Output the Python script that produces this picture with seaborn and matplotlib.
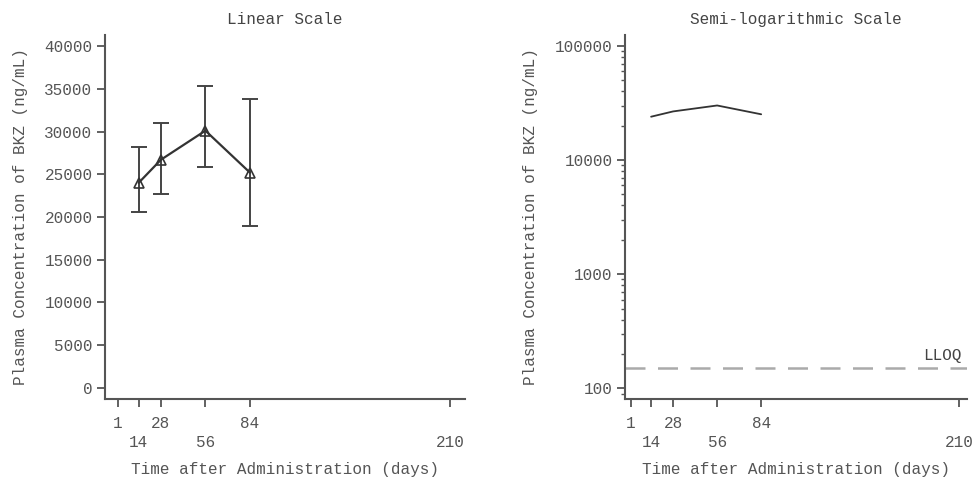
import matplotlib
matplotlib.use("Agg")
import matplotlib.pyplot as plt
import matplotlib.ticker as mticker
import seaborn as sns
import pandas as pd

# ---- data ----
days = [14, 28, 56, 84]
mean_conc = [24000, 26700, 30100, 25200]
upper_err = [28200, 31050, 35350, 33800]
lower_err = [20550, 22650, 25800, 18900]
lloq = 150
xtick_vals = [1, 14, 28, 56, 84, 210]
xtick_labels = ["1", "\n14", "28", "\n56", "84", "\n210"]
lin_yticks = [0, 5000, 10000, 15000, 20000, 25000, 30000, 35000, 40000]
log_yticks = [100, 1000, 10000, 100000]

df = pd.DataFrame({"day": days, "conc": mean_conc})

sns.set_style("ticks")
plt.rcParams["font.family"] = ["Liberation Mono", "DejaVu Sans Mono"]
plt.rcParams["font.size"] = 11.5

TXT = "#555555"
LINE = "#333333"

fig = plt.figure(figsize=(9.75, 4.79), dpi=100)
ax1 = fig.add_axes([105 / 975, 80 / 479, 360 / 975, 364 / 479])
ax2 = fig.add_axes([625 / 975, 80 / 479, 342 / 975, 364 / 479])

ylabel = "Plasma Concentration of BKZ (ng/mL)"
xlabel = "Time after Administration (days)"

# ---- linear panel ----
yerr = [[m - lo for m, lo in zip(mean_conc, lower_err)],
        [hi - m for m, hi in zip(mean_conc, upper_err)]]
ax1.errorbar(days, mean_conc, yerr=yerr, fmt="none", ecolor="#444444",
             elinewidth=1.4, capsize=5.5, capthick=1.4, zorder=2)
sns.lineplot(data=df, x="day", y="conc", ax=ax1, color=LINE, lw=1.6,
             marker="^", markersize=7.5, markerfacecolor="none",
             markeredgecolor=LINE, markeredgewidth=1.2, zorder=3)
ax1.set_xlim(-7.2, 219.4)
ax1.set_ylim(-1290, 41290)
ax1.set_yticks(lin_yticks)
ax1.set_yticklabels([str(v) for v in lin_yticks])
ax1.set_title("Linear Scale", color="#444444", pad=8, fontsize=11.5)

# ---- semi-log panel ----
sns.lineplot(data=df, x="day", y="conc", ax=ax2, color=LINE, lw=1.3)
ax2.set_yscale("log")
ax2.set_xlim(-2.6, 214.9)
ax2.set_ylim(80.6, 124800)
ax2.yaxis.set_major_locator(mticker.FixedLocator(log_yticks))
ax2.yaxis.set_major_formatter(mticker.FixedFormatter([str(v) for v in log_yticks]))
ax2.yaxis.set_minor_locator(mticker.LogLocator(base=10, subs=range(2, 10), numticks=20))
ax2.yaxis.set_minor_formatter(mticker.NullFormatter())
ax2.axhline(lloq, color="#aaaaaa", lw=1.8, dashes=(8, 5))
ax2.annotate("LLOQ", xy=(0.985, lloq), xycoords=("axes fraction", "data"),
             xytext=(0, 4), textcoords="offset points", ha="right", va="bottom",
             color="#444444", fontsize=11.5)
ax2.set_title("Semi-logarithmic Scale", color="#444444", pad=8, fontsize=11.5)

for ax in (ax1, ax2):
    ax.set_xticks(xtick_vals)
    ax.set_xticklabels(xtick_labels)
    for t in ax.get_xticklabels():
        t.set_linespacing(1.35)
    ax.set_xlabel(xlabel, color=TXT, labelpad=9)
    ax.set_ylabel(ylabel, color=TXT, labelpad=12)
    for s in ("top", "right"):
        ax.spines[s].set_visible(False)
    for s in ("left", "bottom"):
        ax.spines[s].set_color("#555555")
        ax.spines[s].set_linewidth(1.5)
    ax.tick_params(axis="both", which="major", colors="#555555", labelcolor=TXT,
                   length=6, width=1.3, direction="out", pad=3)
    ax.tick_params(axis="y", which="minor", colors="#555555", length=3, width=1.0)
    ax.tick_params(axis="x", which="major", pad=6)

fig.savefig("out.png", dpi=100)
